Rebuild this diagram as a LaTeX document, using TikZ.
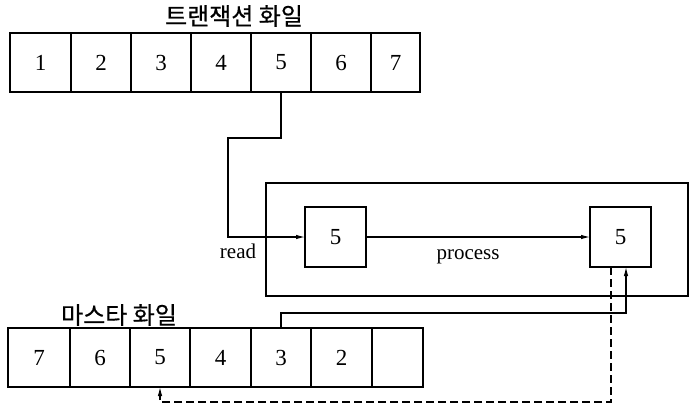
\documentclass[tikz,border=0pt]{standalone}
\usepackage{fontspec}
\setmainfont{Liberation Serif}
\newfontfamily\kr[FakeBold=0.6]{Noto Sans CJK KR}
\usetikzlibrary{arrows.meta}
\tikzset{
  cell/.style={draw, line width=1.1pt, minimum height=59pt, inner sep=0pt, outer sep=0pt, font=\fontsize{23}{23}\selectfont},
  box/.style={draw, line width=1.1pt, minimum width=61pt, minimum height=60pt, inner sep=0pt, outer sep=0pt, font=\fontsize{23}{23}\selectfont},
  conn/.style={line width=1.1pt},
  arr/.style={conn, -{Latex[length=9pt,width=4.5pt]}},
  title/.style={font=\kr\fontsize{24}{24}\selectfont, inner sep=0pt},
  lbl/.style={font=\fontsize{21}{21}\selectfont, inner sep=0pt}
}
\begin{document}
\begin{tikzpicture}[x=1pt,y=-1pt]
\useasboundingbox (0,0) rectangle (690,405);
% top array
\node[title] (ttitle) at (234,16) {트랜잭션 화일};
\node[cell, minimum width=61pt] (t1) at (40.5,62.5) {1};
\node[cell, minimum width=60pt] (t2) at (101,62.5) {2};
\node[cell, minimum width=60pt] (t3) at (161,62.5) {3};
\node[cell, minimum width=60pt] (t4) at (221,62.5) {4};
\node[cell, minimum width=60pt] (t5) at (281,62.5) {5};
\node[cell, minimum width=60pt] (t6) at (341,62.5) {6};
\node[cell, minimum width=49pt] (t7) at (395.5,62.5) {7};
% process box
\node[draw, line width=1.1pt, minimum width=422pt, minimum height=113pt, inner sep=0pt, outer sep=0pt] (outer) at (477,239.5) {};
\node[box] (p1) at (335.5,237) {5};
\node[box] (p2) at (620.5,237) {5};
\node[lbl] (read) at (238,251) {read};
\node[lbl] (proc) at (468,257) {process};
% bottom array
\node[title] (mtitle) at (119,315) {마스타 화일};
\node[cell, minimum width=62pt] (m7) at (39,357.5) {7};
\node[cell, minimum width=60pt] (m6) at (100,357.5) {6};
\node[cell, minimum width=60pt] (m5) at (160,357.5) {5};
\node[cell, minimum width=61pt] (m4) at (220.5,357.5) {4};
\node[cell, minimum width=60pt] (m3) at (281,357.5) {3};
\node[cell, minimum width=61pt] (m2) at (341.5,357.5) {2};
\node[cell, minimum width=51pt] (m1) at (397.5,357.5) {};
% connectors
\coordinate (k1) at (228,138);
\draw[arr] (t5.south) |- (k1) |- (p1.west);
\draw[arr] (p1.east) -- (p2.west);
\coordinate (k2) at (626,313);
\draw[arr] (m3.north) |- (k2) -- (p2.south -| k2);
\coordinate (k3) at (611,402);
\draw[arr, dash pattern=on 8pt off 4pt] (p2.south -| k3) -- (k3) -| (m5.south);
\end{tikzpicture}
\end{document}
